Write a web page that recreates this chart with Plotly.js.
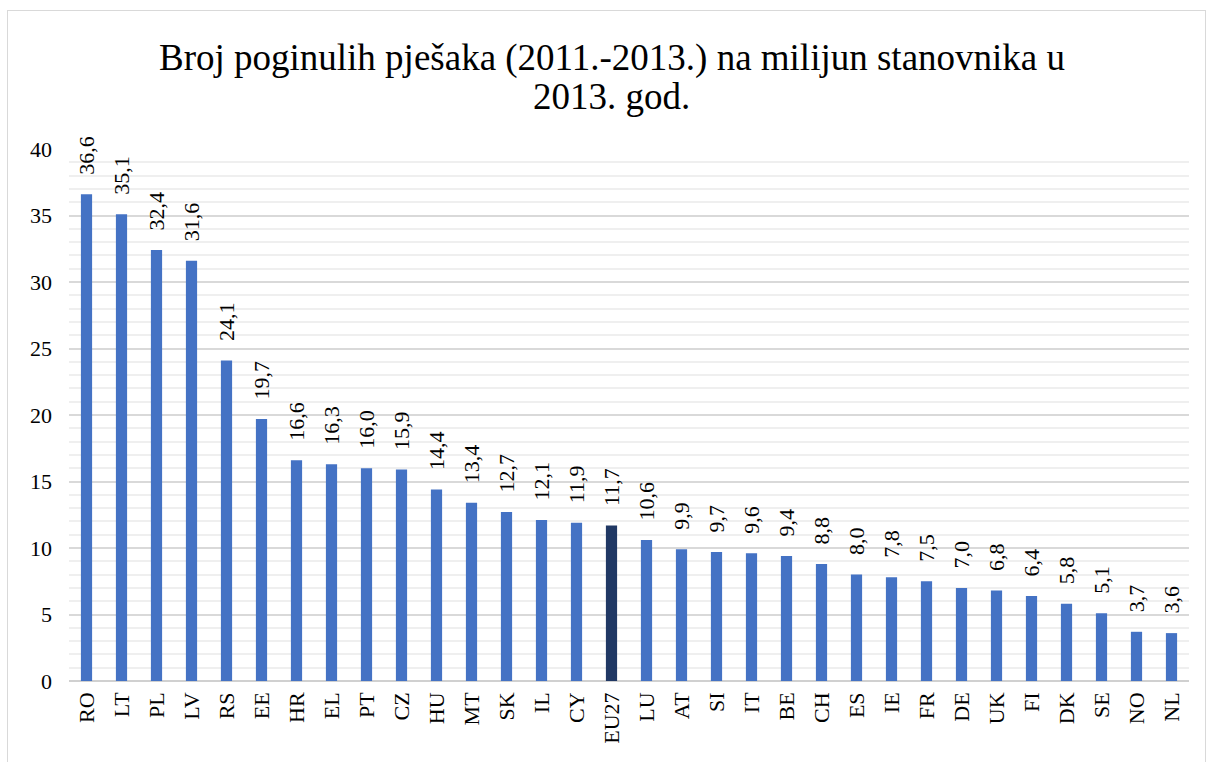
<!DOCTYPE html>
<html>
<head>
<meta charset="utf-8">
<script src="https://cdn.plot.ly/plotly-3.0.1.min.js"></script>
<style>
html,body{margin:0;padding:0;background:#fff;}
#wrap{position:relative;width:1206px;height:762px;overflow:hidden;}
#chart{width:1206px;height:762px;}
#frame{position:absolute;left:7px;top:10px;width:1197px;height:800px;border:1px solid #d9d9d9;pointer-events:none;}
</style>
</head>
<body>
<div id="wrap"><div id="chart"></div><div id="frame"></div></div>
<script>
const categories = ["RO","LT","PL","LV","RS","EE","HR","EL","PT","CZ","HU","MT","SK","IL","CY","EU27","LU","AT","SI","IT","BE","CH","ES","IE","FR","DE","UK","FI","DK","SE","NO","NL"];
const values = [36.6,35.1,32.4,31.6,24.1,19.7,16.6,16.3,16.0,15.9,14.4,13.4,12.7,12.1,11.9,11.7,10.6,9.9,9.7,9.6,9.4,8.8,8.0,7.8,7.5,7.0,6.8,6.4,5.8,5.1,3.7,3.6];
const highlight = "EU27";
const yTicks = [0,5,10,15,20,25,30,35,40];
const titleLines = ["Broj poginulih pješaka (2011.-2013.) na milijun stanovnika u", "2013. god."];

const serif = "'Liberation Serif', 'Times New Roman', serif";
const colors = categories.map(c => c === highlight ? "#203864" : "#4472C4");
const pad = "\u00a0\u00a0\u00a0";
const labels = values.map(v => pad + v.toFixed(1).replace(".", ","));

const trace = {
  type: "bar",
  x: categories,
  y: values,
  marker: {color: colors},
  text: labels,
  textposition: "outside",
  textangle: -90,
  constraintext: "none",
  cliponaxis: false,
  textfont: {family: serif, size: 22, color: "#000"},
  hoverinfo: "x+y"
};

const layout = {
  width: 1206, height: 762,
  margin: {l: 69, r: 17, t: 149, b: 81},
  paper_bgcolor: "#fff", plot_bgcolor: "#fff",
  title: {
    text: titleLines[0],
    font: {family: serif, size: 37, color: "#000"},
    x: 612 / 1206, xanchor: "center", xref: "container",
    y: 1 - 57/762, yanchor: "middle", yref: "container"
  },
  annotations: [{
    text: titleLines[1],
    font: {family: serif, size: 37, color: "#000"},
    xref: "paper", yref: "paper",
    x: (611 - 69) / 1120, y: (681 - 97) / 532,
    xanchor: "center", yanchor: "middle", showarrow: false
  }],
  bargap: 0.68,
  showlegend: false,
  xaxis: {
    type: "category",
    tickangle: -90,
    tickfont: {family: serif, size: 22, color: "#000"},
    showgrid: false, zeroline: false, showline: false, ticks: "",
    ticklabelstandoff: 6
  },
  yaxis: {
    range: [0, 40],
    tickvals: yTicks,
    ticktext: yTicks.map(String),
    tickfont: {family: serif, size: 22, color: "#000"},
    showgrid: true, gridcolor: "#d9d9d9", gridwidth: 2,
    minor: {dtick: 1, showgrid: true, gridcolor: "#efefef", gridwidth: 2},
    zeroline: true, zerolinecolor: "#d0d0d0", zerolinewidth: 2,
    showline: false, ticks: "",
    ticklabelstandoff: 16
  }
};

Plotly.newPlot("chart", [trace], layout, {displayModeBar: false, staticPlot: true});
</script>
</body>
</html>
